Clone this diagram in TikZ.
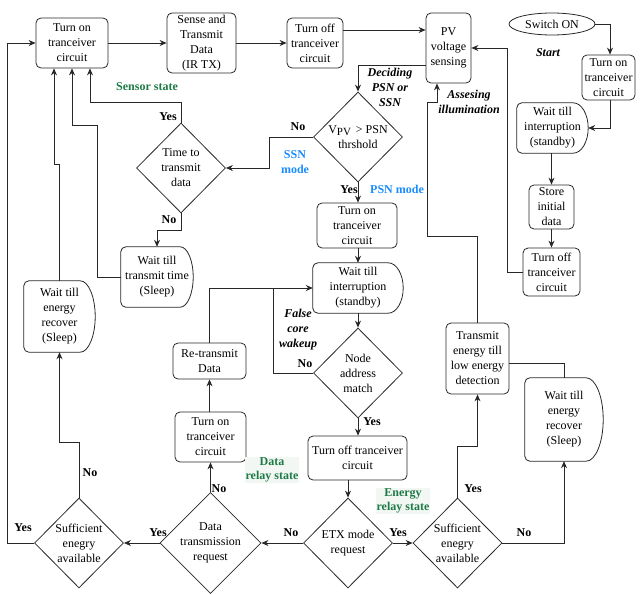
\documentclass[tikz,border=0pt]{standalone}
\usepackage{fontspec}
\setmainfont{Liberation Serif}
\newfontfamily\tnr{Liberation Serif}
\usetikzlibrary{shapes.geometric,arrows.meta,calc}
\definecolor{lnc}{RGB}{40,40,40}
\definecolor{grn}{RGB}{30,122,70}
\definecolor{blu}{RGB}{25,140,255}
\definecolor{lbg}{RGB}{242,247,244}
\begin{document}
\begin{tikzpicture}[x=1pt,y=-1pt, font=\tnr\fontsize{12}{15}\selectfont,
  box/.style={draw=lnc, line width=0.8pt, rounded corners=5pt, align=center, inner sep=1pt},
  dia/.style={draw=lnc, line width=0.8pt, diamond, aspect=1, align=center, inner sep=0pt, minimum width=89pt, minimum height=90pt},
  wbox/.style={align=center, inner sep=1pt},
  arr/.style={draw=lnc, line width=0.8pt, -{Stealth[length=7pt,width=6pt]}},
  conn/.style={draw=lnc, line width=0.8pt},
  lab/.style={font=\tnr\fontsize{12}{14.5}\selectfont\bfseries, inner sep=1pt, align=center},
  itl/.style={font=\tnr\fontsize{12}{15}\selectfont\bfseries\itshape, inner sep=1pt, align=center},
  grnlab/.style={lab, text=grn},
  blulab/.style={lab, text=blu},
]
\useasboundingbox (0,0) rectangle (644,594);

% top row
\node[box, minimum width=72pt, minimum height=50pt] (tonA) at (72,43) {Turn on\\tranceiver\\circuit};
\node[box, minimum width=69pt, minimum height=60pt] (sense) at (201.5,43) {Sense and\\Transmit\\Data\\(IR TX)};
\node[box, minimum width=56pt, minimum height=50pt] (toff1) at (315,43) {Turn off\\tranceiver\\circuit};
\node[box, minimum width=45pt, minimum height=70pt] (pv) at (448.5,48) {PV\\voltage\\sensing};

% right column
\node[draw=lnc, line width=0.8pt, ellipse, minimum width=86pt, minimum height=22pt, inner sep=0pt] (sw) at (552,24) {Switch ON};
\node[box, minimum width=53pt, minimum height=45pt] (ton2) at (608.5,77.5) {Turn on\\tranceiver\\circuit};
\node[wbox, minimum width=71pt, minimum height=50pt] (wi2) at (552.5,128) {Wait till\\interruption\\(standby)};
\node[box, minimum width=45pt, minimum height=44pt] (store) at (551.5,207) {Store\\initial\\data};
\node[box, minimum width=57pt, minimum height=48pt] (toff2) at (551.5,272) {Turn off\\tranceiver\\circuit};

% centre column
\node[dia] (vpv) at (358,137) {V\raisebox{-2.5pt}{\fontsize{11}{11}\selectfont PV} \,> PSN\\thrshold};
\node[box, minimum width=80pt, minimum height=45pt] (ton3) at (357,225.5) {Turn on\\tranceiver\\circuit};
\node[wbox, minimum width=90pt, minimum height=50pt] (wi1) at (358,288) {Wait till\\interruption\\(standby)};
\node[dia] (node) at (358,373) {Node\\address\\match};
\node[box, minimum width=99pt, minimum height=44pt] (toff3) at (357.5,458) {Turn off tranceiver\\circuit};
\node[dia] (etx) at (348,543) {ETX mode\\request};

% left part
\node[dia] (time) at (181,168) {Time to\\transmit\\data};
\node[wbox, minimum width=72pt, minimum height=60pt] (wt) at (157,277) {Wait till\\transmit time\\(Sleep)};
\node[wbox, minimum width=71pt, minimum height=71pt] (wel) at (59.5,316.5) {Wait till\\energy\\recover\\(Sleep)};
\node[box, minimum width=73pt, minimum height=36pt] (retx) at (209.5,361) {Re-transmit\\Data};
\node[box, minimum width=71pt, minimum height=50pt] (ton4) at (210.5,437) {Turn on\\tranceiver\\circuit};
\node[dia] (dtr) at (210.5,543) {Data\\transmission\\request};
\node[dia] (suf1) at (79,543) {Sufficient\\enegry\\available};

% right lower part
\node[dia] (suf2) at (457.5,543) {Sufficient\\enegry\\available};
\node[box, minimum width=63pt, minimum height=71pt] (te) at (477.5,358.5) {Transmit\\energy till\\low energy\\detection};
\node[wbox, minimum width=78pt, minimum height=83pt] (wer) at (564,419.5) {Wait till\\energy\\recover\\(Sleep)};

% delay-shape outlines
\foreach \n/\d in {wt/13, wel/15, wi1/15, wi2/15, wer/17} {
  \draw[conn, rounded corners=5pt] ($(\n.north east)+(-\d,0)$) -- (\n.north west) -- (\n.south west) -- ($(\n.south east)+(-\d,0)$);
  \draw[conn] ($(\n.north east)+(-\d,0)$) .. controls ($(\n.north east)+(-0.45*\d,0)$) and ($(\n.east)!0.55!(\n.north east)$) .. (\n.east)
     .. controls ($(\n.east)!0.55!(\n.south east)$) and ($(\n.south east)+(-0.45*\d,0)$) .. ($(\n.south east)+(-\d,0)$);
}

% connectors
\draw[arr] (suf1.west) -- (7,543) |- (tonA.west);
\draw[arr] (tonA) -- (sense);
\draw[arr] (sense) -- (toff1);
\draw[arr] (toff1.east |- 0,30) -- (pv.west |- 0,30);
\draw[arr] (pv.west |- 0,65) -| (vpv.north);
\draw[arr] (vpv.west) -- (269,137) |- (time.east);
\draw[arr] (time.north) |- (90,102) -- (tonA.south -| 90,0);
\draw[arr] (time.south) -- (181,230) -| (wt.north);
\draw[arr] (wt.west) -| (97,125) -| (tonA.south);
\draw[arr] (wel.north) |- (54,164) -- (tonA.south -| 54,0);
\draw[arr] (vpv.south) -- (vpv.south |- ton3.north);
\draw[arr] (ton3.south -| wi1.north) -- (wi1.north);
\draw[arr] (wi1.south) -- (node.north);
\draw[arr] (node.south) -- (node.south |- toff3.north);
\draw[arr] (toff3.south -| etx.north) -- (etx.north);
\draw[arr] (etx.east) -- (suf2.west);
\draw[arr] (suf2.north) -- (457.5,446) -| (te.south);
\draw[arr] (suf2.east) -| (wer.south);
\draw[conn] (te.east |- 0,363) -| (wer.north);
\draw[arr] (te.north) |- (427,236) -- (427,102) -| (pv.south -| 437,0);
\draw[arr] (toff2.west) -| (507,48) -- (pv.east |- 0,48);
\draw[arr] (sw.east) -| (ton2.north -| 610,0);
\draw[arr] (ton2.south -| 610,0) |- (wi2.east);
\draw[arr] (wi2.south -| store.north) -- (store.north);
\draw[arr] (store.south) -- (toff2.north);
\draw[arr] (etx.west) -- (dtr.east);
\draw[arr] (dtr.west) -- (suf1.east);
\draw[arr] (dtr.north) -- (dtr.north |- ton4.south);
\draw[arr] (ton4.north -| retx.south) -- (retx.south);
\draw[arr] (retx.north) |- (wi1.west);
\draw[conn] (node.west) -| (273,288);
\draw[arr] (suf1.north) -- (79,442) -| (wel.south);

% labels
\node[grnlab] (l1) at (147,87) {Sensor state};
\node[lab] (l2) at (168,117) {Yes};
\node[lab] (l3) at (298,127) {No};
\node[blulab] (l4) at (295,162) {SSN\\mode};
\node[itl] (l5) at (390,87) {Deciding\\PSN or\\SSN};
\node[itl] (l6) at (469,102) {Assesing\\illumination};
\node[itl] (l7) at (548,53) {Start};
\node[lab] (l8) at (349,190) {Yes};
\node[blulab] (l9) at (397,189) {PSN mode};
\node[lab] (l10) at (169,220) {No};
\node[itl] (l11) at (298,330) {False\\core\\wakeup};
\node[lab] (l12) at (305,364) {No};
\node[lab] (l13) at (372,422) {Yes};
\node[grnlab, fill=lbg] (l14) at (272,470) {Data\\relay state};
\node[grnlab, fill=lbg] (l15) at (403,501) {Energy\\relay state};
\node[lab] (l16) at (219,489) {No};
\node[lab] (l17) at (291,533) {No};
\node[lab] (l18) at (158,533) {Yes};
\node[lab] (l19) at (90,473) {No};
\node[lab] (l20) at (23,528) {Yes};
\node[lab] (l21) at (398,533) {Yes};
\node[lab] (l22) at (473,489) {Yes};
\node[lab] (l23) at (524,533) {No};
\end{tikzpicture}
\end{document}
